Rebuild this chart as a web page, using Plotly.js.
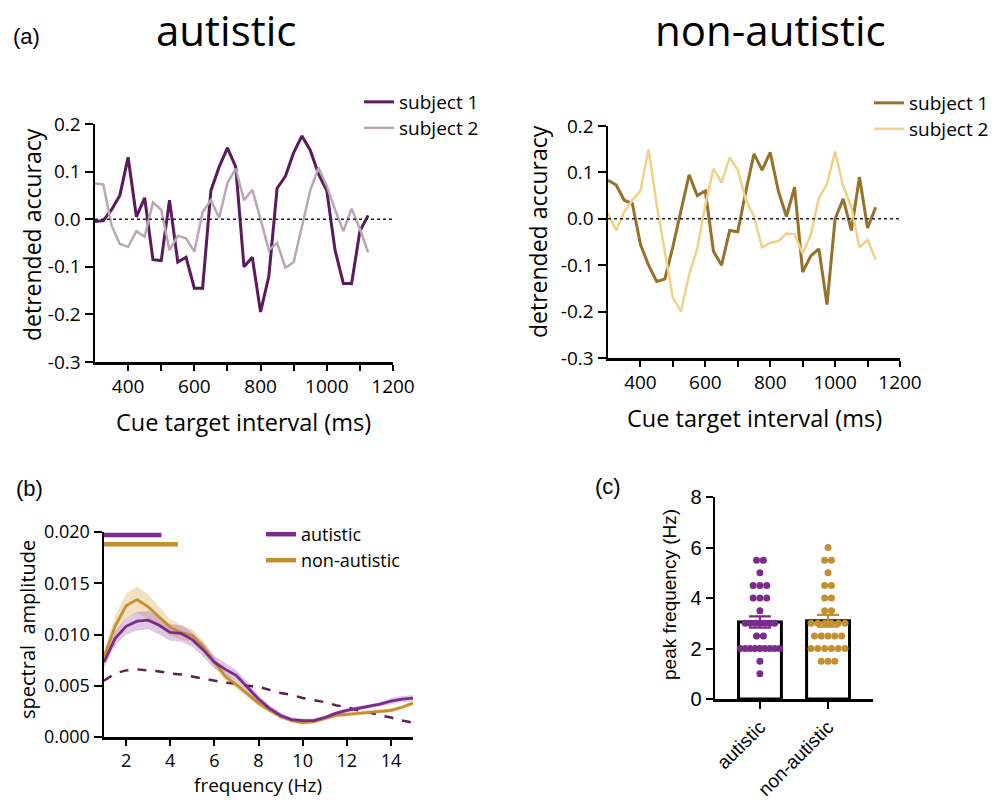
<!DOCTYPE html>
<html>
<head>
<meta charset="utf-8">
<script src="https://cdn.plot.ly/plotly-3.0.1.min.js"></script>
<style>html,body{margin:0;padding:0;background:#fff;}#chart{width:1005px;height:800px;}</style>
</head>
<body>
<div id="chart"></div>
<script>
// ---------- DATA ----------
// (a) detrended accuracy by cue-target interval
const ctiMs = [300,325,350,375,400,425,450,475,500,525,550,575,600,625,650,675,700,725,750,775,800,825,850,875,900,925,950,975,1000,1025,1050,1075,1100,1125];
const autSubject1 = [-0.005,-0.003,0.02,0.05,0.13,0.005,0.045,-0.085,-0.087,0.04,-0.09,-0.08,-0.145,-0.145,0.06,0.11,0.15,0.11,-0.10,-0.08,-0.195,-0.12,0.065,0.09,0.14,0.175,0.145,0.095,0.06,-0.065,-0.135,-0.135,-0.025,0.008];
const autSubject2 = [0.075,0.073,-0.013,-0.052,-0.058,-0.025,-0.037,0.035,0.02,-0.065,-0.035,-0.04,-0.068,0.015,0.04,0.003,0.076,0.106,0.04,0.062,0.0,-0.065,-0.05,-0.102,-0.09,-0.015,0.06,0.108,0.07,0.02,-0.025,0.022,-0.02,-0.07];
const naSubject1 = [0.083,0.073,0.04,0.033,-0.055,-0.1,-0.135,-0.13,-0.06,0.015,0.095,0.05,0.06,-0.07,-0.1,-0.025,-0.028,0.06,0.14,0.105,0.143,0.06,0.005,0.068,-0.115,-0.08,-0.065,-0.185,0.0,0.043,-0.025,0.09,-0.02,0.025];
const naSubject2 = [0.012,-0.025,0.015,0.04,0.06,0.15,0.03,-0.07,-0.17,-0.2,-0.12,-0.065,0.03,0.108,0.078,0.132,0.105,0.04,0.005,-0.062,-0.052,-0.048,-0.032,-0.033,-0.075,-0.035,0.045,0.075,0.145,0.07,0.025,-0.062,-0.045,-0.088];
const ctiTickVals = [400,500,600,700,800,900,1000,1100,1200];
const ctiTickText = ['400','','600','','800','','1000','','1200'];
const accTickVals = [-0.3,-0.2,-0.1,0,0.1,0.2];
const accTickText = ['-0.3','-0.2','-0.1','0.0','0.1','0.2'];

// (b) spectral amplitude
const freqHz = [1,1.5,2,2.5,3,3.5,4,4.5,5,5.5,6,6.5,7,7.5,8,8.5,9,9.5,10,10.5,11,11.5,12,12.5,13,13.5,14,14.5,15];
const autAmp = [0.0073,0.0096,0.0108,0.0113,0.0114,0.0109,0.0102,0.0101,0.0095,0.0085,0.0073,0.0066,0.0060,0.0049,0.0037,0.0028,0.0021,0.0017,0.0016,0.0016,0.0019,0.0023,0.0026,0.0028,0.0030,0.0032,0.0035,0.0037,0.0038];
const autSem = [0.0005,0.0007,0.0008,0.0009,0.0009,0.0009,0.0008,0.0008,0.0007,0.0007,0.0006,0.0006,0.0005,0.0005,0.0004,0.0003,0.0003,0.0002,0.0002,0.0002,0.0002,0.0002,0.0002,0.0002,0.0002,0.0002,0.0003,0.0003,0.0003];
const naAmp = [0.0078,0.0108,0.0128,0.0134,0.0127,0.0117,0.0107,0.0102,0.0099,0.0088,0.0073,0.0059,0.0051,0.0042,0.0033,0.0026,0.0020,0.0016,0.0014,0.0015,0.0018,0.0021,0.0022,0.0023,0.0024,0.0025,0.0026,0.0029,0.0033];
const naSem = [0.0006,0.0010,0.0012,0.0013,0.0012,0.0010,0.0008,0.0007,0.0006,0.0006,0.0005,0.0004,0.0004,0.0003,0.0003,0.0002,0.0002,0.0002,0.0002,0.0002,0.0002,0.0002,0.0002,0.0002,0.0002,0.0002,0.0002,0.0002,0.0002];
const nullAmp = [0.0055,0.0062,0.0065,0.0066,0.0065,0.0064,0.0062,0.0061,0.0059,0.0057,0.0055,0.0053,0.0052,0.0050,0.0049,0.0046,0.0043,0.0041,0.0038,0.0036,0.0034,0.0031,0.0029,0.0026,0.0024,0.0021,0.0019,0.0016,0.0014];
const sigAutRange = [1, 3.6];      const sigAutLevel = 0.0197;
const sigNaRange = [1, 4.35];      const sigNaLevel = 0.0188;
const freqTickVals = [2,4,6,8,10,12,14];
const ampTickVals = [0,0.005,0.01,0.015,0.02];
const ampTickText = ['0.000','0.005','0.010','0.015','0.020'];

// (c) individual peak frequencies
const groupNames = ['autistic','non-autistic'];
const autPeaks = [5.5,5.5,5,4.5,4.5,4.5,4,4,4,3.5,3,3,3,3,3,3,3,2.5,2.5,2,2,2,2,2,2,2,2,2,1.5,1];
const naPeaks = [6,5.5,5.5,5,4.5,4.5,4,4,3.5,3.5,3,3,3,3,3,3,2.5,2.5,2.5,2.5,2.5,2,2,2,2,2,2,1.5,1.5,1.5];
const peakTickVals = [0,2,4,6,8];

// ---------- COLOURS ----------
const cAut1 = '#5a1a5c', cAut2 = '#b9a7b5';
const cNa1 = '#95712a', cNa2 = '#f1d186';
const cAutB = '#7a2b8c', cNaB = '#c4902f', cNull = '#5a2152';

// ---------- HELPERS ----------
const W = 1005, H = 800;
const px = x => x / W;
const py = y => 1 - y / H;
const SANS = 'Liberation Sans, Arial, sans-serif';
const OPEN = 'Open Sans, sans-serif';
function axis(o) {
  return Object.assign({
    showline: true, linecolor: 'black', linewidth: 2.5,
    ticks: 'outside', ticklen: 7, tickwidth: 2, tickcolor: 'black',
    showgrid: false, zeroline: false, fixedrange: true,
    tickfont: {family: OPEN, size: 19, color: 'black'}
  }, o);
}
function mean(a) { return a.reduce((s, v) => s + v, 0) / a.length; }
function sem(a) {
  const m = mean(a);
  const sd = Math.sqrt(a.reduce((s, v) => s + (v - m) * (v - m), 0) / (a.length - 1));
  return sd / Math.sqrt(a.length);
}
function swarm(vals, center) {
  const counts = {}, seen = {};
  vals.forEach(v => { counts[v] = (counts[v] || 0) + 1; });
  return vals.map(v => {
    const n = counts[v];
    const k = seen[v] = (seen[v] === undefined ? 0 : seen[v] + 1);
    const step = n > 6 ? 0.072 : 0.1;
    return center + (k - (n - 1) / 2) * step;
  });
}
function band(x, m, e) {
  const up = m.map((v, i) => v + e[i]);
  const lo = m.map((v, i) => v - e[i]);
  return {x: x.concat(x.slice().reverse()), y: up.concat(lo.reverse())};
}

// ---------- TRACES ----------
const traces = [];
// (a) left
traces.push({x: ctiMs, y: autSubject1, type: 'scatter', mode: 'lines', name: 'subject 1',
  line: {color: cAut1, width: 3}, xaxis: 'x', yaxis: 'y', legend: 'legend'});
traces.push({x: ctiMs, y: autSubject2, type: 'scatter', mode: 'lines', name: 'subject 2',
  line: {color: cAut2, width: 2.5}, xaxis: 'x', yaxis: 'y', legend: 'legend2'});
// (a) right
traces.push({x: ctiMs, y: naSubject1, type: 'scatter', mode: 'lines', name: 'subject 1',
  line: {color: cNa1, width: 3}, xaxis: 'x2', yaxis: 'y2', legend: 'legend3'});
traces.push({x: ctiMs, y: naSubject2, type: 'scatter', mode: 'lines', name: 'subject 2',
  line: {color: cNa2, width: 2.5}, xaxis: 'x2', yaxis: 'y2', legend: 'legend4'});
// (b)
const bNa = band(freqHz, naAmp, naSem);
const bAut = band(freqHz, autAmp, autSem);
traces.push({x: bNa.x, y: bNa.y, type: 'scatter', mode: 'lines', fill: 'toself',
  fillcolor: 'rgba(226,188,120,0.45)', line: {width: 0}, hoverinfo: 'skip', showlegend: false, xaxis: 'x3', yaxis: 'y3'});
traces.push({x: bAut.x, y: bAut.y, type: 'scatter', mode: 'lines', fill: 'toself',
  fillcolor: 'rgba(160,100,175,0.35)', line: {width: 0}, hoverinfo: 'skip', showlegend: false, xaxis: 'x3', yaxis: 'y3'});
traces.push({x: freqHz, y: nullAmp, type: 'scatter', mode: 'lines', name: 'null',
  line: {color: cNull, width: 2.5, dash: 'dash'}, showlegend: false, xaxis: 'x3', yaxis: 'y3'});
traces.push({x: freqHz, y: naAmp, type: 'scatter', mode: 'lines', name: 'non-autistic',
  line: {color: cNaB, width: 2.8}, showlegend: false, xaxis: 'x3', yaxis: 'y3'});
traces.push({x: freqHz, y: autAmp, type: 'scatter', mode: 'lines', name: 'autistic',
  line: {color: cAutB, width: 2.8}, showlegend: false, xaxis: 'x3', yaxis: 'y3'});
traces.push({x: sigAutRange, y: [sigAutLevel, sigAutLevel], type: 'scatter', mode: 'lines', name: 'autistic',
  line: {color: cAutB, width: 4.5}, cliponaxis: false, xaxis: 'x3', yaxis: 'y3', legend: 'legend5'});
traces.push({x: sigNaRange, y: [sigNaLevel, sigNaLevel], type: 'scatter', mode: 'lines', name: 'non-autistic',
  line: {color: cNaB, width: 4.5}, cliponaxis: false, xaxis: 'x3', yaxis: 'y3', legend: 'legend6'});
// (c)
const groups = [autPeaks, naPeaks];
const dotCols = [cAutB, cNaB];
groups.forEach((g, i) => {
  traces.push({x: [i], y: [mean(g)], type: 'bar', width: 0.63, name: groupNames[i],
    marker: {color: 'white', line: {color: 'black', width: 3}}, showlegend: false, xaxis: 'x4', yaxis: 'y4'});
});
groups.forEach((g, i) => {
  traces.push({x: swarm(g, i), y: g, type: 'scatter', mode: 'markers', name: groupNames[i],
    marker: {color: dotCols[i], size: 7}, showlegend: false, cliponaxis: false, xaxis: 'x4', yaxis: 'y4'});
});
groups.forEach((g, i) => {
  traces.push({x: [i], y: [mean(g)], type: 'scatter', mode: 'markers', name: groupNames[i] + ' mean',
    marker: {size: 1, color: 'rgba(0,0,0,0)'},
    error_y: {type: 'data', array: [sem(g)], color: dotCols[i], thickness: 2.2, width: 11},
    showlegend: false, xaxis: 'x4', yaxis: 'y4'});
});

// ---------- LAYOUT ----------
const ann = (text, x, y, size, family, extra) => Object.assign({
  text: text, xref: 'paper', yref: 'paper', x: px(x), y: py(y),
  xanchor: 'center', yanchor: 'middle', showarrow: false,
  font: {family: family, size: size, color: 'black'}
}, extra || {});
// one single-entry legend per item; top edge placed so the entry's centre hits the given y
const leg = (x, yc, size) => ({x: px(x), y: py(yc - 19), xanchor: 'left', yanchor: 'top',
  bgcolor: 'rgba(0,0,0,0)', font: {family: OPEN, size: size, color: 'black'}, tracegroupgap: 0});

const layout = {
  width: W, height: H,
  margin: {l: 0, r: 0, t: 0, b: 0},
  paper_bgcolor: 'white', plot_bgcolor: 'white',
  barmode: 'overlay',
  xaxis: axis({domain: [px(95), px(393)], range: [300, 1200], anchor: 'y',
    tickvals: ctiTickVals, ticktext: ctiTickText, ticklen: 6}),
  yaxis: axis({domain: [py(362), py(124)], range: [-0.3, 0.2], anchor: 'x',
    tickvals: accTickVals, ticktext: accTickText, ticklen: 8}),
  xaxis2: axis({domain: [px(608), px(900)], range: [300, 1200], anchor: 'y2',
    tickvals: ctiTickVals, ticktext: ctiTickText, ticklen: 6}),
  yaxis2: axis({domain: [py(358), py(126)], range: [-0.3, 0.2], anchor: 'x2',
    tickvals: accTickVals, ticktext: accTickText, ticklen: 8}),
  xaxis3: axis({domain: [px(104), px(413)], range: [1, 15], anchor: 'y3',
    tickvals: freqTickVals, ticklen: 6, tickfont: {family: OPEN, size: 18, color: 'black'}}),
  yaxis3: axis({domain: [py(737), py(532)], range: [0, 0.02], anchor: 'x3',
    tickvals: ampTickVals, ticktext: ampTickText, ticklen: 8, tickfont: {family: OPEN, size: 18, color: 'black'}}),
  xaxis4: axis({domain: [px(715), px(873)], range: [-0.66, 1.66], anchor: 'y4',
    tickvals: [0, 1], ticktext: groupNames, tickangle: -45, ticklen: 7, tickfont: {family: SANS, size: 19, color: 'black'}}),
  yaxis4: axis({domain: [py(699), py(497)], range: [0, 8], anchor: 'x4',
    tickvals: peakTickVals, ticklen: 7, tickfont: {family: SANS, size: 20, color: 'black'}}),
  legend: leg(359, 102, 19),
  legend2: leg(359, 128, 19),
  legend3: leg(869, 103, 19),
  legend4: leg(869, 129, 19),
  legend5: leg(261, 535, 18),
  legend6: leg(261, 561, 18),
  shapes: [
    {type: 'line', xref: 'x domain', yref: 'y', x0: 0, x1: 1, y0: 0, y1: 0,
      line: {color: '#222', width: 1.5, dash: 'dot'}},
    {type: 'line', xref: 'x2 domain', yref: 'y2', x0: 0, x1: 1, y0: 0, y1: 0,
      line: {color: '#222', width: 1.5, dash: 'dot'}}
  ],
  annotations: [
    ann('(a)', 26, 36, 22, SANS),
    ann('(b)', 29, 488, 22, SANS),
    ann('(c)', 608, 486, 22, SANS),
    ann('autistic', 226, 30, 42, OPEN),
    ann('non-autistic', 770, 30, 42, OPEN),
    ann('detrended accuracy', 32, 235, 23, OPEN, {textangle: -90}),
    ann('Cue target interval (ms)', 243, 422, 23.5, OPEN),
    ann('detrended accuracy', 538, 232, 23, OPEN, {textangle: -90}),
    ann('Cue target interval (ms)', 754, 418, 23.5, OPEN),
    ann('spectral  amplitude', 27, 630, 20, OPEN, {textangle: -90}),
    ann('frequency (Hz)', 258, 800, 19, OPEN, {yanchor: 'bottom', y: 0}),
    ann('peak frequency (Hz)', 669, 595, 19, SANS, {textangle: -90})
  ]
};

Plotly.newPlot('chart', traces, layout, {displayModeBar: false, staticPlot: true});
</script>
</body>
</html>
